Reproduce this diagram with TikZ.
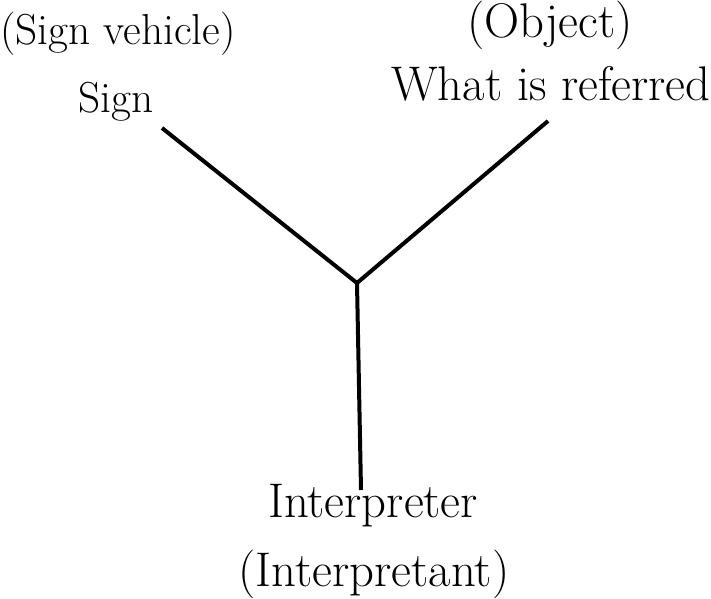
\documentclass[tikz,border=0pt]{standalone}
\begin{document}
\begin{tikzpicture}[x=0.75pt,y=-0.75pt,
  lbl/.style={anchor=base,inner sep=0pt,font=\fontsize{36.5}{42}\selectfont},
  slbl/.style={anchor=base,inner sep=0pt,font=\fontsize{32.5}{39}\selectfont},
  arm/.style={line width=3pt}]
\useasboundingbox (0,0) rectangle (711,599);
\node[slbl] (sv) at (118,45) {(Sign vehicle)};
\node[slbl] (sign) at (116,113) {Sign};
\node[lbl] (obj) at (550,38) {(Object)};
\node[lbl] (ref) at (551,101) {What is referred};
\node[lbl] (int) at (373,517) {Interpreter};
\node[lbl] (intp) at (374,586) {(Interpretant)};
\coordinate (c) at (357,283);
\coordinate (s1) at (162,128);
\coordinate (r1) at (548,121);
\coordinate (i1) at (361,490);
\draw[arm] (s1) -- (c) -- (r1);
\draw[arm] (c) -- (i1);
\end{tikzpicture}
\end{document}
